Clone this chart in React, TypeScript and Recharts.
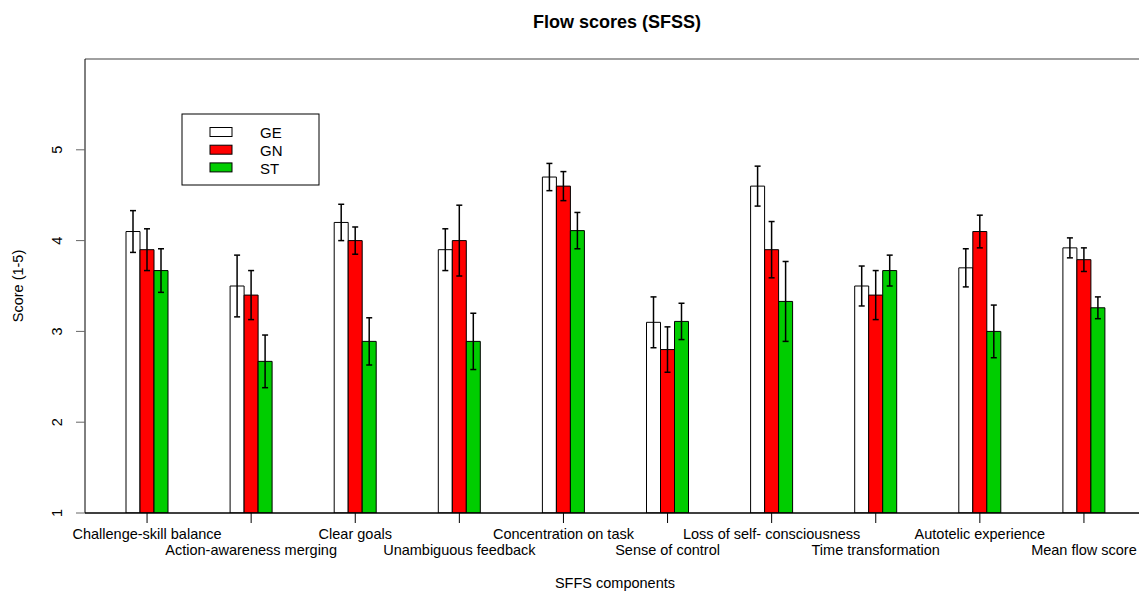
import { BarChart, Bar, XAxis, YAxis, ErrorBar, ReferenceLine } from 'recharts'

const categories = [
    'Challenge-skill balance',
    'Action-awareness merging',
    'Clear goals',
    'Unambiguous feedback',
    'Concentration on task',
    'Sense of control',
    'Loss of self- consciousness',
    'Time transformation',
    'Autotelic experience',
    'Mean flow score',
]

const geScores = [4.1, 3.5, 4.2, 3.9, 4.7, 3.1, 4.6, 3.5, 3.7, 3.92]
const gnScores = [3.9, 3.4, 4.0, 4.0, 4.6, 2.8, 3.9, 3.4, 4.1, 3.79]
const stScores = [3.67, 2.67, 2.89, 2.89, 4.11, 3.11, 3.33, 3.67, 3.0, 3.26]

const geErrors = [0.23, 0.34, 0.2, 0.23, 0.15, 0.28, 0.22, 0.22, 0.21, 0.11]
const gnErrors = [0.23, 0.27, 0.15, 0.39, 0.16, 0.25, 0.31, 0.27, 0.18, 0.13]
const stErrors = [0.24, 0.29, 0.26, 0.31, 0.2, 0.2, 0.44, 0.17, 0.29, 0.12]

const yTicks = [1, 2, 3, 4, 5]

const groups = [
    { key: 'GE', color: '#ffffff' },
    { key: 'GN', color: '#ff0000' },
    { key: 'ST', color: '#00cd00' },
]

const FONT = '"Liberation Sans", Arial, Helvetica, sans-serif'

const data = categories.map((name, i) => ({
    name,
    GE: geScores[i],
    GN: gnScores[i],
    ST: stScores[i],
    GEerr: geErrors[i],
    GNerr: gnErrors[i],
    STerr: stErrors[i],
}))

function XTick(props: any) {
    const { x, payload } = props
    const idx = props.index ?? payload.index ?? 0
    const baseline = idx % 2 === 0 ? 539 : 555
    return (
        <text x={x} y={baseline} textAnchor="middle" fontSize={14.5} fontFamily={FONT} fill="#000">
            {payload.value}
        </text>
    )
}

function YTick(props: any) {
    const { y, payload } = props
    const tx = 62
    return (
        <text
            x={tx}
            y={y}
            transform={`rotate(-90 ${tx} ${y})`}
            textAnchor="middle"
            fontSize={14.5}
            fontFamily={FONT}
            fill="#000"
        >
            {payload.value}
        </text>
    )
}

export default function App() {
    return (
        <div
            style={{
                position: 'absolute',
                left: 0,
                top: 0,
                width: 1139,
                height: 591,
                overflow: 'hidden',
                background: '#fff',
            }}
        >
            <BarChart
                width={1150}
                height={591}
                data={data}
                margin={{ top: 59, right: 4, bottom: 77, left: 84 }}
                barGap={0}
                barSize={14}
            >
                <XAxis
                    dataKey="name"
                    height={1}
                    interval={0}
                    padding={{ left: 10, right: 10 }}
                    tickSize={10}
                    tickMargin={0}
                    axisLine={{ stroke: '#000', strokeWidth: 1.3 }}
                    tickLine={{ stroke: '#000' }}
                    tick={<XTick />}
                />
                <YAxis
                    type="number"
                    width={1}
                    domain={[1, 6]}
                    ticks={yTicks}
                    allowDataOverflow
                    tickSize={9}
                    axisLine={{ stroke: '#000' }}
                    tickLine={{ stroke: '#666' }}
                    tick={<YTick />}
                />
                <ReferenceLine y={6} stroke="#808080" strokeWidth={1.5} ifOverflow="visible" />
                {groups.map((g) => (
                    <Bar
                        key={g.key}
                        dataKey={g.key}
                        fill={g.color}
                        stroke="#000"
                        strokeWidth={1}
                        isAnimationActive={false}
                    >
                        <ErrorBar
                            dataKey={`${g.key}err`}
                            direction="y"
                            width={3}
                            stroke="#000"
                            strokeWidth={1.5}
                            isAnimationActive={false}
                        />
                    </Bar>
                ))}
            </BarChart>

            <svg
                width={1139}
                height={591}
                style={{ position: 'absolute', left: 0, top: 0, pointerEvents: 'none' }}
                fontFamily={FONT}
            >
                <text x={617} y={28} textAnchor="middle" fontSize={18} fontWeight="bold">
                    Flow scores (SFSS)
                </text>
                <text x={615} y={588} textAnchor="middle" fontSize={14.5}>
                    SFFS components
                </text>
                <text x={23} y={286} textAnchor="middle" fontSize={14.5} transform="rotate(-90 23 286)">
                    Score (1-5)
                </text>

                {/* Legend */}
                <rect x={182} y={114} width={137} height={71} fill="#fff" stroke="#000" />
                {groups.map((g, i) => (
                    <g key={g.key}>
                        <rect x={210} y={127.5 + i * 17.7} width={22} height={9} fill={g.color} stroke="#000" />
                        <text x={260} y={138.3 + i * 17.7} fontSize={15}>
                            {g.key}
                        </text>
                    </g>
                ))}
            </svg>
        </div>
    )
}
